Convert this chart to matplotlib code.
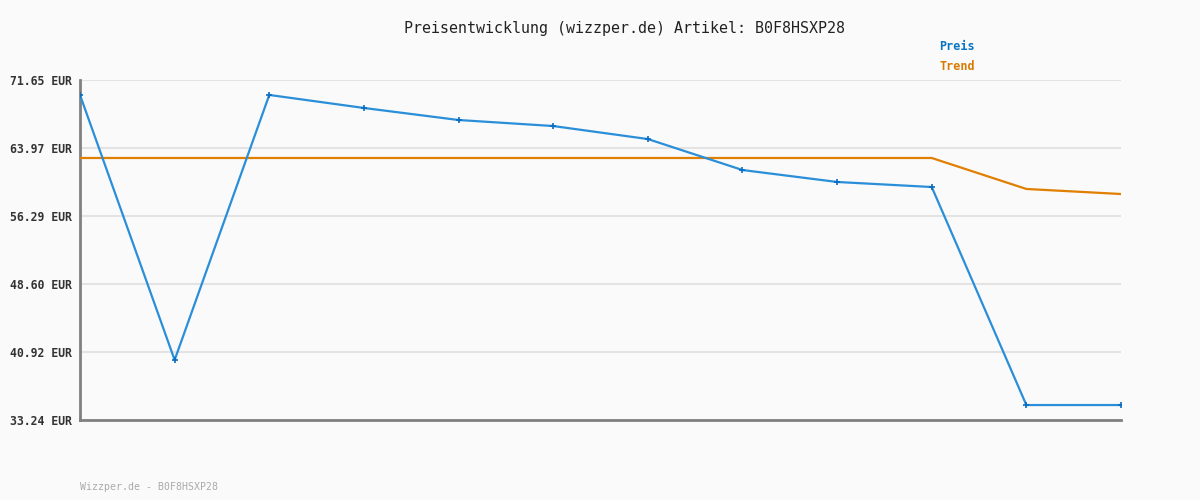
import matplotlib
matplotlib.use("Agg")
import matplotlib.pyplot as plt

# Price history values
preis = [69.96, 40.02, 69.96, 68.49, 67.13, 66.45, 64.98, 61.48, 60.13, 59.56, 34.93, 34.93]
trend = [62.84, 62.84, 62.84, 62.84, 62.84, 62.84, 62.84, 62.84, 62.84, 62.84, 59.34, 58.77]
y_ticks = [33.24, 40.92, 48.60, 56.29, 63.97, 71.65]
y_labels = ["33.24 EUR", "40.92 EUR", "48.60 EUR", "56.29 EUR", "63.97 EUR", "71.65 EUR"]
x = list(range(len(preis)))

plt.rcParams["font.family"] = ["DejaVu Sans Mono"]

fig = plt.figure(figsize=(12, 5), dpi=100, facecolor="#fafafa")
ax = fig.add_axes([80 / 1200, 80 / 500, 1041 / 1200, 340 / 500])
ax.set_facecolor("#fafafa")

ax.plot(x, trend, color="#e07f00", linewidth=1.6, zorder=3)
ax.plot(x, preis, color="#2a8fd8", linewidth=1.6, zorder=4,
        marker="+", markersize=4, markeredgewidth=1.2, markeredgecolor="#0a6cc0")

ax.set_xlim(0, len(preis) - 1)
ax.set_ylim(y_ticks[0], y_ticks[-1])
ax.set_yticks(y_ticks)
ax.set_yticklabels(y_labels, fontsize=8.3, fontweight="bold", color="#333333")
ax.set_xticks([])
ax.tick_params(axis="y", length=0, pad=5.5)
ax.grid(axis="y", color="#e3e3e3", linewidth=1.5)
ax.set_axisbelow(True)

for side in ["top", "right"]:
    ax.spines[side].set_visible(False)
for side in ["left", "bottom"]:
    ax.spines[side].set_color("#808080")
    ax.spines[side].set_linewidth(2)

fig.text(624 / 1200, 1 - 28 / 500, "Preisentwicklung (wizzper.de) Artikel: B0F8HSXP28",
         ha="center", va="center", fontsize=10.8, color="#222222")
fig.text(939 / 1200, 1 - 47 / 500, "Preis", ha="left", va="center",
         fontsize=8.5, fontweight="bold", color="#0a74c4")
fig.text(939 / 1200, 1 - 67 / 500, "Trend", ha="left", va="center",
         fontsize=8.5, fontweight="bold", color="#d97a00")
fig.text(80 / 1200, 1 - 487 / 500, "Wizzper.de - B0F8HSXP28", ha="left", va="center",
         fontsize=7.1, color="#aaaaaa")

fig.savefig("out.png", dpi=100, facecolor=fig.get_facecolor())
